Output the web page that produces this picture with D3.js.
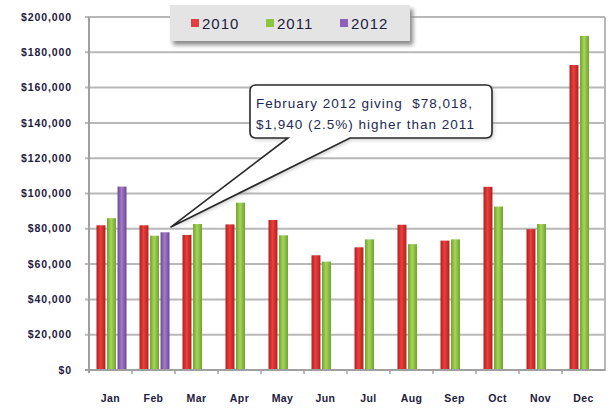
<!DOCTYPE html>
<html>
<head>
<meta charset="utf-8">
<script src="https://cdn.jsdelivr.net/npm/d3@7"></script>
<style>
  body { margin: 0; background: #fff; }
  svg { display: block; }
  text { font-family: "Liberation Sans", Arial, sans-serif; }
</style>
</head>
<body>
<div id="chart"></div>
<script>
// Monthly giving
const months = ["Jan", "Feb", "Mar", "Apr", "May", "Jun", "Jul", "Aug", "Sep", "Oct", "Nov", "Dec"];
const series = ["2010", "2011", "2012"];
const giving2010 = [82000, 82000, 76500, 82500, 85000, 65000, 69500, 82300, 73300, 103800, 79800, 172800];
const giving2011 = [86000, 76078, 82700, 94800, 76300, 61400, 74000, 71300, 74000, 92600, 82700, 189300];
const giving2012 = [103900, 78018, null, null, null, null, null, null, null, null, null, null];
const yTicks = [0, 20000, 40000, 60000, 80000, 100000, 120000, 140000, 160000, 180000, 200000];
const calloutLines = ["February 2012 giving  $78,018,", "$1,940 (2.5%) higher than 2011"];

const colors = { "2010": ["#b41e1e", "#e8403c"], "2011": ["#6fa22c", "#a6d65a"], "2012": ["#6e4596", "#a27cc8"] };
const legendColors = { "2010": "#e04040", "2011": "#8cc63f", "2012": "#8e62b8" };

const width = 611, height = 409;
const margin = { top: 17, right: 6, bottom: 39, left: 89 };

const svg = d3.select("#chart").append("svg")
  .attr("width", width)
  .attr("height", height);

const defs = svg.append("defs");
series.forEach(s => {
  const g = defs.append("linearGradient").attr("id", "grad" + s)
    .attr("x1", "0").attr("x2", "1").attr("y1", "0").attr("y2", "0");
  g.append("stop").attr("offset", "0%").attr("stop-color", colors[s][0]);
  g.append("stop").attr("offset", "45%").attr("stop-color", colors[s][1]);
  g.append("stop").attr("offset", "100%").attr("stop-color", colors[s][0]);
});
const blur = defs.append("filter").attr("id", "shadow").attr("x", "-10%").attr("y", "-20%").attr("width", "130%").attr("height", "160%");
blur.append("feGaussianBlur").attr("stdDeviation", 2);

const x = d3.scaleBand().domain(months).range([margin.left, width - margin.right]);
const xSub = d3.scaleBand().domain(series).range([7.5, 37.5]).paddingInner(0.15);
const y = d3.scaleLinear().domain([0, 200000]).range([height - margin.bottom, margin.top]);

// grid
svg.append("g").selectAll("line")
  .data(yTicks)
  .join("line")
  .attr("x1", margin.left - 4)
  .attr("x2", width - margin.right)
  .attr("y1", d => y(d))
  .attr("y2", d => y(d))
  .attr("stroke", "#b8b8b8")
  .attr("stroke-width", 2);

// right frame
svg.append("line")
  .attr("x1", width - margin.right).attr("x2", width - margin.right)
  .attr("y1", y(200000)).attr("y2", y(0) + 1)
  .attr("stroke", "#b8b8b8").attr("stroke-width", 2);

// y labels
svg.append("g").selectAll("text")
  .data(yTicks)
  .join("text")
  .attr("x", 72)
  .attr("y", d => y(d))
  .attr("dy", "0.35em")
  .attr("text-anchor", "end")
  .attr("font-size", 10.5)
  .attr("font-weight", "bold")
  .attr("letter-spacing", 0.9)
  .attr("fill", "#1d2040")
  .text(d => d3.format("$,")(d));

// bars
const rows = months.map((m, i) => ({ month: m, values: [giving2010[i], giving2011[i], giving2012[i]] }));
svg.append("g").selectAll("g")
  .data(rows)
  .join("g")
  .attr("transform", d => `translate(${x(d.month)},0)`)
  .selectAll("rect")
  .data(d => d.values.map((v, j) => ({ s: series[j], v })).filter(e => e.v != null))
  .join("rect")
  .attr("x", d => xSub(d.s))
  .attr("width", xSub.bandwidth())
  .attr("y", d => y(d.v))
  .attr("height", d => y(0) - y(d.v))
  .attr("fill", d => `url(#grad${d.s})`);

// axes lines
svg.append("line")
  .attr("x1", margin.left).attr("x2", margin.left)
  .attr("y1", y(200000)).attr("y2", y(0) + 3)
  .attr("stroke", "#a0a0a0").attr("stroke-width", 2);
svg.append("line")
  .attr("x1", margin.left - 4).attr("x2", width - margin.right)
  .attr("y1", y(0)).attr("y2", y(0))
  .attr("stroke", "#a0a0a0").attr("stroke-width", 2);
svg.append("g").selectAll("line")
  .data(months.slice(1))
  .join("line")
  .attr("x1", d => x(d)).attr("x2", d => x(d))
  .attr("y1", y(0)).attr("y2", y(0) + 4)
  .attr("stroke", "#a0a0a0").attr("stroke-width", 1.5);

// x labels
svg.append("g").selectAll("text")
  .data(months)
  .join("text")
  .attr("x", d => x(d) + x.bandwidth() / 2)
  .attr("y", 402)
  .attr("text-anchor", "middle")
  .attr("font-size", 10.5)
  .attr("font-weight", "bold")
  .attr("letter-spacing", 0.4)
  .attr("fill", "#1d2040")
  .text(d => d);

// legend
const legend = svg.append("g").attr("transform", "translate(170,5)");
legend.append("rect").attr("x", 3).attr("y", 4).attr("width", 240).attr("height", 36)
  .attr("fill", "#8a8a8a").attr("filter", "url(#shadow)");
legend.append("rect").attr("width", 240).attr("height", 36).attr("fill", "#e4e4e4");
const legendX = [21, 96, 170];
series.forEach((s, i) => {
  legend.append("rect").attr("x", legendX[i]).attr("y", 14).attr("width", 8).attr("height", 8)
    .attr("fill", legendColors[s]);
  legend.append("text").attr("x", legendX[i] + 11).attr("y", 24)
    .attr("font-size", 15).attr("letter-spacing", 1).attr("fill", "#1e2040").text(s);
});

// callout pointing at Feb 2012
const tipX = x("Feb") + xSub("2012") + xSub.bandwidth() + 1;
const tipY = y(giving2012[1]) - 5;
const bx0 = 250, bx1 = 492, by0 = 85, by1 = 138, r = 6;
const callout = d3.path();
callout.moveTo(bx0 + r, by0);
callout.lineTo(bx1 - r, by0);
callout.quadraticCurveTo(bx1, by0, bx1, by0 + r);
callout.lineTo(bx1, by1 - r);
callout.quadraticCurveTo(bx1, by1, bx1 - r, by1);
callout.lineTo(350, by1);
callout.lineTo(tipX, tipY);
callout.lineTo(288, by1);
callout.lineTo(bx0 + r, by1);
callout.quadraticCurveTo(bx0, by1, bx0, by1 - r);
callout.lineTo(bx0, by0 + r);
callout.quadraticCurveTo(bx0, by0, bx0 + r, by0);
callout.closePath();

svg.append("path").attr("d", callout.toString())
  .attr("transform", "translate(1.5,1.5)")
  .attr("fill", "#999").attr("opacity", 0.6).attr("filter", "url(#shadow)");
svg.append("path").attr("d", callout.toString())
  .attr("fill", "#fff").attr("stroke", "#2a2a2a").attr("stroke-width", 1.6);
svg.append("g").selectAll("text")
  .data(calloutLines)
  .join("text")
  .attr("x", 256)
  .attr("y", (d, i) => 108 + i * 21)
  .attr("font-size", 13.5)
  .attr("letter-spacing", 1.0)
  .attr("fill", "#1c2a55")
  .style("white-space", "pre")
  .text(d => d);
</script>
</body>
</html>
